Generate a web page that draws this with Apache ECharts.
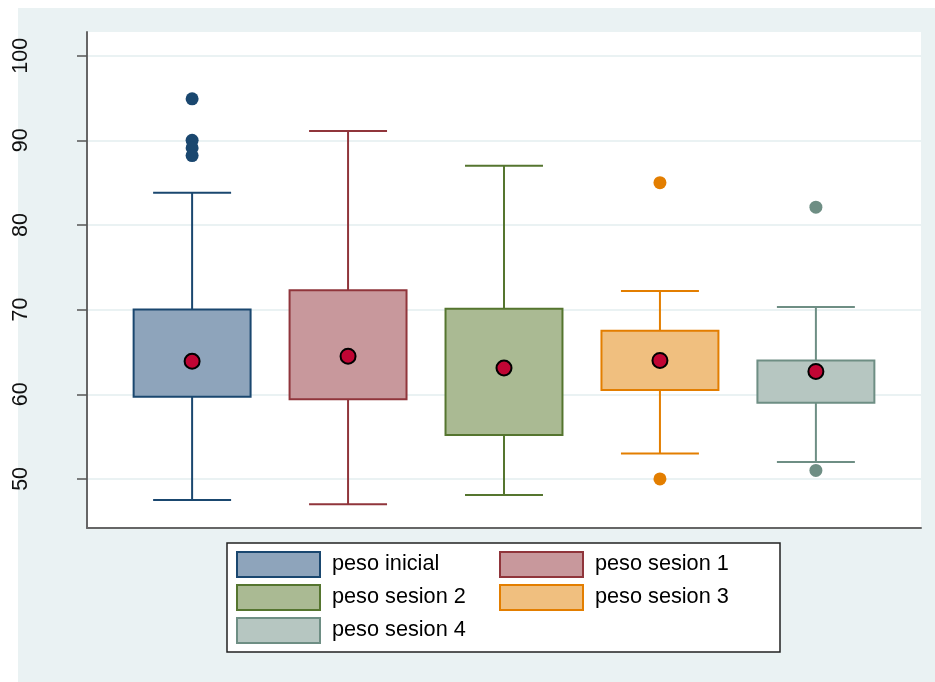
<!DOCTYPE html>
<html>
<head>
<meta charset="utf-8">
<script src="https://cdn.jsdelivr.net/npm/echarts@6/dist/echarts.min.js"></script>
<style>
  html, body { margin: 0; padding: 0; background: #fff; }
  #chart { width: 935px; height: 682px; }
</style>
</head>
<body>
<div id="chart"></div>
<script>
// grupos (una caja por variable)
const grupos = ['peso inicial', 'peso sesion 1', 'peso sesion 2', 'peso sesion 3', 'peso sesion 4']
// bigote inferior, Q1, Q3, bigote superior
const bigoteInf = [47.5, 47.0, 48.1, 53.0, 52.0]
const q1 = [59.7, 59.4, 55.2, 60.5, 59.0]
const q3 = [70.0, 72.3, 70.1, 67.5, 64.0]
const bigoteSup = [83.8, 91.1, 87.0, 72.2, 70.3]
// medias (punto rojo)
const medias = [63.9, 64.5, 63.1, 64.0, 62.7]
// valores atipicos por grupo
const atipicos = [
  [94.9, 90.0, 89.1, 88.2],
  [],
  [],
  [85.0, 50.0],
  [82.1, 51.0]
]
const yTicks = [50, 60, 70, 80, 90, 100]

const bordes = ['#1A476F', '#90353B', '#55752F', '#E37E00', '#6E8E84']
const rellenos = ['#8EA4BB', '#C8989C', '#AABA93', '#F0BF7F', '#B6C6C1']
const fuente = "'Liberation Sans', Arial, sans-serif"

const chart = echarts.init(document.getElementById('chart'))

const series = []
grupos.forEach((g, i) => {
  series.push({
    name: g,
    type: 'custom',
    z: 2,
    data: [[i + 1, bigoteInf[i], q1[i], q3[i], bigoteSup[i]]],
    renderItem: (params, api) => {
      const x = api.value(0)
      const lo = api.coord([x, api.value(1)])
      const b1 = api.coord([x, api.value(2)])
      const b3 = api.coord([x, api.value(3)])
      const hi = api.coord([x, api.value(4)])
      const boxW = api.size([0.75, 0])[0]
      const capW = api.size([0.5, 0])[0]
      const lineStyle = { stroke: bordes[i], lineWidth: 2, fill: null }
      return {
        type: 'group',
        children: [
          { type: 'line', shape: { x1: lo[0], y1: lo[1], x2: b1[0], y2: b1[1] }, style: lineStyle },
          { type: 'line', shape: { x1: hi[0], y1: hi[1], x2: b3[0], y2: b3[1] }, style: lineStyle },
          { type: 'line', shape: { x1: lo[0] - capW / 2, y1: lo[1], x2: lo[0] + capW / 2, y2: lo[1] }, style: lineStyle },
          { type: 'line', shape: { x1: hi[0] - capW / 2, y1: hi[1], x2: hi[0] + capW / 2, y2: hi[1] }, style: lineStyle },
          {
            type: 'rect',
            shape: { x: b3[0] - boxW / 2, y: b3[1], width: boxW, height: b1[1] - b3[1] },
            style: { fill: rellenos[i], stroke: bordes[i], lineWidth: 2 }
          }
        ]
      }
    }
  })
  series.push({
    name: g,
    type: 'scatter',
    z: 3,
    symbolSize: 13,
    itemStyle: { color: bordes[i], opacity: 1 },
    data: atipicos[i].map(v => [i + 1, v])
  })
})
series.push({
  name: 'media',
  type: 'scatter',
  z: 5,
  symbolSize: 15,
  itemStyle: { color: '#C10534', borderColor: '#000', borderWidth: 2, opacity: 1 },
  data: medias.map((v, i) => [i + 1, v])
})

const itemLeyenda = i => ({
  name: grupos[i],
  icon: 'rect',
  itemStyle: { color: rellenos[i], borderColor: bordes[i], borderWidth: 2 }
})
const leyendaBase = {
  orient: 'vertical',
  top: 551,
  padding: 0,
  itemWidth: 83,
  itemHeight: 25,
  itemGap: 6,
  selectedMode: false,
  textStyle: { fontFamily: fuente, fontSize: 21.7, color: '#000', padding: [0, 0, 0, 7] }
}

chart.setOption({
  animation: false,
  backgroundColor: '#fff',
  graphic: [
    { type: 'rect', z: -10, shape: { x: 18, y: 8, width: 917, height: 674 }, style: { fill: '#EAF2F3' } },
    { type: 'rect', z: -5, shape: { x: 227, y: 543, width: 553, height: 109 }, style: { fill: '#fff', stroke: '#222', lineWidth: 1.5 } }
  ],
  grid: { left: 87, right: 14, top: 32, bottom: 154, show: true, backgroundColor: '#fff', borderWidth: 0 },
  xAxis: {
    type: 'value',
    min: 0.326,
    max: 5.674,
    axisLine: { show: true, onZero: false, lineStyle: { color: '#666', width: 2 } },
    axisTick: { show: false },
    axisLabel: { show: false },
    splitLine: { show: false }
  },
  yAxis: {
    type: 'value',
    min: 44.2,
    max: 102.8,
    axisLine: { show: true, lineStyle: { color: '#666', width: 2 } },
    axisTick: { show: true, length: 10, customValues: yTicks, lineStyle: { color: '#555', width: 1.5 } },
    axisLabel: { customValues: yTicks, rotate: 90, margin: 55, fontFamily: fuente, fontSize: 21.5, color: '#111' },
    splitLine: { show: true, lineStyle: { color: '#EAF2F3', width: 2 } }
  },
  legend: [
    Object.assign({}, leyendaBase, { left: 236, data: [0, 2, 4].map(itemLeyenda) }),
    Object.assign({}, leyendaBase, { left: 499, data: [1, 3].map(itemLeyenda) })
  ],
  series: series
})
</script>
</body>
</html>
